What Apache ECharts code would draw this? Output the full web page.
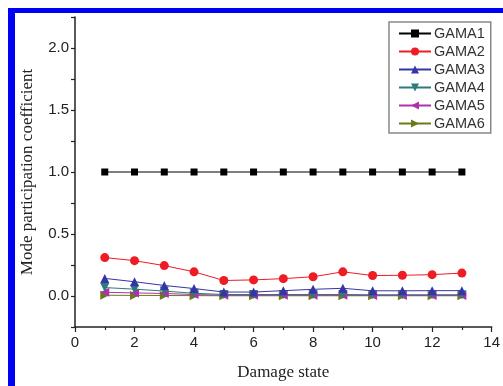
<!DOCTYPE html>
<html><head><meta charset="utf-8">
<script src="https://cdn.jsdelivr.net/npm/echarts@6/dist/echarts.min.js"></script>
<style>html,body{margin:0;padding:0;background:#fff}#c{width:503px;height:386px}</style>
</head><body><div id="c"></div>
<script>
const states = [1,2,3,4,5,6,7,8,9,10,11,12,13];
const seriesNames = ['GAMA1','GAMA2','GAMA3','GAMA4','GAMA5','GAMA6'];
const gama1 = [1,1,1,1,1,1,1,1,1,1,1,1,1];
const gama2 = [0.31,0.285,0.245,0.195,0.125,0.13,0.14,0.155,0.195,0.165,0.167,0.172,0.185];
const gama3 = [0.142,0.115,0.085,0.06,0.032,0.032,0.043,0.054,0.062,0.042,0.042,0.043,0.043];
const gama4 = [0.068,0.055,0.04,0.022,0.012,0.012,0.012,0.012,0.012,0.01,0.01,0.01,0.01];
const gama5 = [0.03,0.025,0.02,0.012,0.006,0.006,0.006,0.006,0.006,0.005,0.005,0.005,0.005];
const gama6 = [0.006,0.005,0.004,0.003,0.002,0.002,0.002,0.002,0.002,0.002,0.002,0.002,0.002];
const yTicks = [0.0,0.5,1.0,1.5,2.0];

const values = [gama1,gama2,gama3,gama4,gama5,gama6];
const colors = ['#000000','#ee1c25','#3535a8','#2c7a7a','#b030a8','#6b7a18'];
const symbols = ['rect','circle','triangle','triangle','triangle','triangle'];
const rotates = [0,0,0,180,90,-90];
const sizes = [7,9,9,9,9,9];

const chart = echarts.init(document.getElementById('c'));
chart.setOption({
  animation:false,
  backgroundColor:'#fff',
  graphic:[
    {type:'rect',shape:{x:8,y:8,width:495,height:5},style:{fill:'#0000f5'},z:100},
    {type:'rect',shape:{x:8,y:8,width:7,height:378},style:{fill:'#0000f5'},z:100}
  ],
  grid:{left:75,right:7,top:17,bottom:57,containLabel:false},
  legend:{
    orient:'vertical',left:389,top:22,
    padding:[4,6,2,9],
    itemWidth:32,itemHeight:10,itemGap:3,
    borderColor:'#888',borderWidth:1.5,
    backgroundColor:'#fff',
    textStyle:{fontFamily:'Liberation Sans',fontSize:14.5,color:'#333',lineHeight:14,padding:[0,0,0,-2]},
    data:seriesNames
  },
  xAxis:{
    type:'value',min:0,max:14,interval:2,
    name:'Damage state',nameLocation:'middle',nameGap:37,
    nameTextStyle:{fontFamily:'Liberation Serif',fontSize:17,color:'#222'},
    axisLine:{show:true,onZero:false,lineStyle:{color:'#222',width:1.5}},
    axisTick:{show:true,length:5,lineStyle:{color:'#222',width:1.2}},
    minorTick:{show:true,splitNumber:2,length:3,lineStyle:{color:'#222',width:1.2}},
    splitLine:{show:false},
    axisLabel:{fontFamily:'Liberation Sans',fontSize:15,color:'#222',margin:8}
  },
  yAxis:{
    type:'value',min:-0.25,max:2.25,interval:0.25,
    name:'Mode participation coefficient',nameLocation:'middle',nameGap:39,
    nameTextStyle:{fontFamily:'Liberation Serif',fontSize:17,color:'#222'},
    axisLine:{show:true,lineStyle:{color:'#222',width:1.5}},
    axisTick:{show:true,length:4,lineStyle:{color:'#222',width:1.2}},
    splitLine:{show:false},
    axisLabel:{fontFamily:'Liberation Sans',fontSize:15,color:'#222',margin:6,
      formatter:function(v){
        for (const t of yTicks){ if (Math.abs(v-t)<1e-9) return t.toFixed(1); }
        return '';
      }}
  },
  series: seriesNames.map((n,i)=>({
    name:n,type:'line',
    data: states.map((s,j)=>[s,values[i][j]]),
    symbol:symbols[i],symbolSize:sizes[i],symbolRotate:rotates[i],
    itemStyle:{color:colors[i]},
    lineStyle:{color:colors[i],width:1},
    z: 10-i
  }))
});
</script></body></html>
